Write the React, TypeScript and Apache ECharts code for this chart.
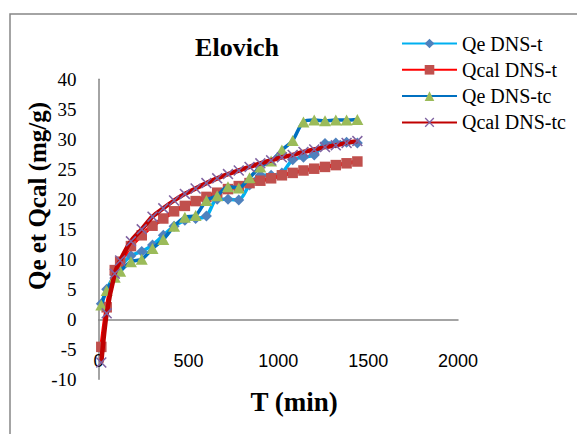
import React, { useEffect, useRef } from "react";
import * as echarts from "echarts";

const timeMin = [15, 45, 90, 120, 180, 240, 300, 360, 420, 480, 540, 600, 660, 720, 780, 840, 900, 960, 1020, 1080, 1140, 1200, 1260, 1320, 1380, 1440];
const qeDnsT = [2.6, 5.0, 7.4, 8.8, 10.6, 11.3, 12.4, 14.0, 15.5, 16.5, 16.8, 17.2, 20.0, 20.0, 19.9, 22.4, 24.0, 24.0, 24.4, 26.6, 27.0, 27.4, 29.3, 29.4, 29.5, 29.4];
const qcalDnsT = [-4.6, 2.0, 8.2, 9.6, 12.2, 14.0, 15.6, 16.8, 18.0, 18.9, 19.7, 20.4, 21.1, 21.7, 22.2, 22.7, 23.1, 23.5, 24.0, 24.4, 24.8, 25.1, 25.4, 25.7, 26.0, 26.3];
const qeDnsTc = [2.4, 4.8, 7.0, 8.0, 9.6, 10.0, 11.8, 13.3, 15.5, 17.0, 17.3, 19.8, 20.6, 22.1, 21.9, 23.6, 25.4, 26.4, 28.2, 29.8, 32.9, 33.2, 33.1, 33.2, 33.2, 33.3];
const qcalDnsTc = [-7.2, 1.0, 7.6, 9.8, 13.0, 15.0, 17.1, 18.5, 19.8, 20.9, 21.8, 22.7, 23.5, 24.2, 24.8, 25.4, 26.0, 26.5, 27.0, 27.4, 27.9, 28.3, 28.7, 29.0, 29.4, 29.7];

const seriesNames = ["Qe DNS-t", "Qcal DNS-t", "Qe DNS-tc", "Qcal DNS-tc"];
const lineColors = ["#00B0F0", "#FF0000", "#0070C0", "#C00000"];
const markerColors = ["#4F81BD", "#C0504D", "#9BBB59", "#8064A2"];
const lineWidths = [3.5, 4, 3.5, 4.5];

const xSymbol = "path://M0,1 L1,0 L5,4 L9,0 L10,1 L6,5 L10,9 L9,10 L5,6 L1,10 L0,9 L4,5 Z";
const symbols = ["diamond", "rect", "triangle", xSymbol];
const symbolSizes: any[] = [11, 10.5, [12, 11], 11];

const serif = '"Liberation Serif", "Times New Roman", serif';

export default function App() {
  const ref = useRef<HTMLDivElement>(null);
  useEffect(() => {
    if (!ref.current) return;
    const chart = echarts.init(ref.current, undefined, { renderer: "svg" });
    const allData = [qeDnsT, qcalDnsT, qeDnsTc, qcalDnsTc];
    chart.setOption({
      animation: false,
      backgroundColor: "#ffffff",
      grid: { left: 98.6, right: 119, top: 79.3, bottom: 54.7, containLabel: false },
      legend: {
        orient: "vertical",
        left: 396,
        top: 28.5,
        itemWidth: 55,
        itemHeight: 12,
        itemGap: 6.3,
        data: seriesNames,
        textStyle: { fontFamily: serif, fontSize: 20, color: "#000", lineHeight: 20 },
      },
      xAxis: {
        type: "value",
        min: 0,
        max: 2000,
        interval: 500,
        axisLine: { onZero: true, lineStyle: { color: "#868686", width: 1.5 } },
        axisTick: { show: false },
        splitLine: { show: false },
        axisLabel: {
          margin: -27,
          formatter: (v: number) => String(v),
          fontFamily: '"Liberation Sans", Arial, sans-serif',
          fontSize: 18,
          color: "#000",
        },
      },
      yAxis: {
        type: "value",
        min: -10,
        max: 40,
        interval: 5,
        axisLine: { show: true, onZero: false, lineStyle: { color: "#868686", width: 1.5 } },
        axisTick: { show: false },
        splitLine: { show: false },
        axisLabel: { margin: 22, fontFamily: serif, fontSize: 19, color: "#000" },
      },
      graphic: [
        {
          type: "rect",
          silent: true,
          shape: { x: 10, y: 14, width: 700, height: 600 },
          style: { fill: "none", stroke: "#868686", lineWidth: 1.5 },
        },
        {
          type: "text",
          x: 237,
          y: 47.5,
          style: { text: "Elovich", fontFamily: serif, fontWeight: "bold", fontSize: 26, fill: "#000", align: "center", verticalAlign: "middle" },
        },
        {
          type: "text",
          x: 37,
          y: 196,
          rotation: Math.PI / 2,
          style: { text: "Qe et Qcal (mg/g)", fontFamily: serif, fontWeight: "bold", fontSize: 25, fill: "#000", align: "center", verticalAlign: "middle" },
        },
        {
          type: "text",
          x: 294,
          y: 402,
          style: { text: "T (min)", fontFamily: serif, fontWeight: "bold", fontSize: 27, fill: "#000", align: "center", verticalAlign: "middle" },
        },
      ],
      series: seriesNames.map((name, i) => ({
        name,
        type: "line",
        smooth: 0.3,
        data: timeMin.map((t, j) => [t, allData[i][j]]),
        symbol: symbols[i],
        symbolSize: symbolSizes[i],
        showAllSymbol: true,
        lineStyle: { color: lineColors[i], width: lineWidths[i] },
        itemStyle: { color: markerColors[i], borderWidth: 0 },
        emphasis: { disabled: true },
        z: 2 + i,
      })),
    });
    return () => chart.dispose();
  }, []);
  return <div ref={ref} style={{ position: "fixed", left: 0, top: 0, width: 577, height: 434 }} />;
}
